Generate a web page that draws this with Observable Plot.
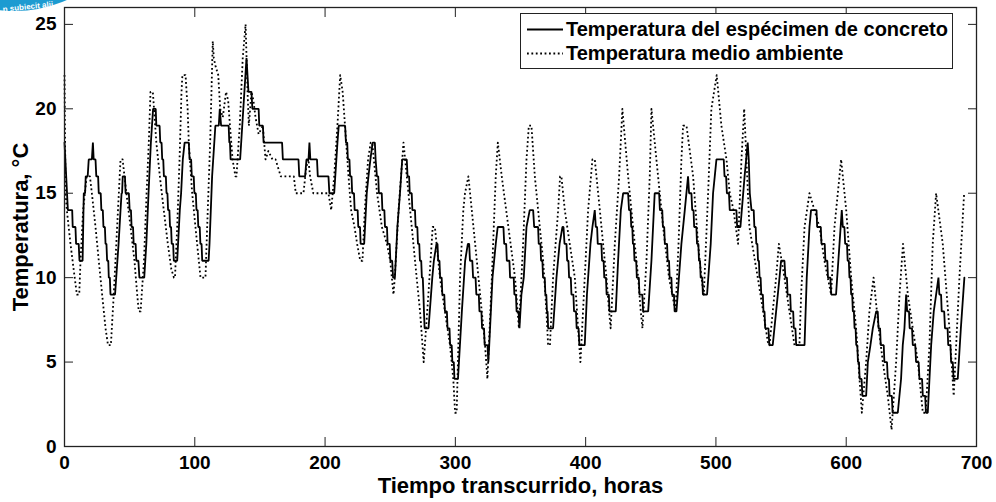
<!DOCTYPE html>
<html>
<head>
<meta charset="utf-8">
<script src="https://cdn.jsdelivr.net/npm/d3@7"></script>
<script src="https://cdn.jsdelivr.net/npm/@observablehq/plot@0.6"></script>
<style>
  html, body { margin: 0; padding: 0; background: #fff; }
  #wrap { position: relative; width: 996px; height: 502px; overflow: hidden; font-family: 'Liberation Sans', Arial, sans-serif; font-weight: bold; }
  #legend { position: absolute; left: 520px; top: 13px; width: 431px; height: 54px; border: 1px solid #222; background: #fff; box-sizing: content-box; }
  .row { position: absolute; left: 0; height: 24px; width: 100%; }
  .row svg { position: absolute; left: 6px; top: 0; }
  .row span { position: absolute; left: 45px; top: 0; line-height: 24px; font-size: 20px; color: #000; white-space: nowrap; }
  #logo { position: absolute; left: 0; top: 0; }
</style>
</head>
<body>
<div id="wrap"></div>
<script>
// ---- data (hours, °C) ----
const xTicks = [0, 100, 200, 300, 400, 500, 600, 700];
const yTicks = [0, 5, 10, 15, 20, 25];
const xTitle = "Tiempo transcurrido, horas";
const yTitle = "Temperatura, °C";
const seriesNames = ["Temperatura del espécimen de concreto", "Temperatura medio ambiente"];
const badgeText = "n subiecit alii";

const concreto = [
[0,18],[2.6,14],[5.9,14],[6.3,13],[8.4,13],[8.9,12],[10.9,12],[11.5,11],[13.9,11],[14.8,15],[15.8,15],[16.3,16],[17.8,16],[18.6,17],[21,17],[21.8,18],[22.4,17],[23.8,17],[24.4,16],[25.8,16],[26.3,15],[27.8,15],[28.3,14],[29.4,14],[29.9,13],[31,13],[31.5,12],[32.2,12],[32.7,11],[33.6,11],[34,10],[34.8,10],[35.3,9],[38.8,9],[39.7,10],[41.5,12],[43,14],[43.8,15],[44.2,15],[44.7,16],[46.4,16],[46.9,15],[49.4,15],[50,14],[51,14],[51.5,13],[52.6,13],[53.1,12],[54.6,12],[55.1,11],[56.7,11],[57.5,10],[61.2,10],[62.8,12],[64.5,15],[66.3,18],[68,20],[70,20],[70.5,19],[73,19],[73.5,18],[74.5,18],[75,17],[75.8,17],[76.3,16],[77.8,16],[78.3,15],[79,15],[79.5,14],[80.5,14],[81,13],[81.8,13],[82.3,12],[83.4,12],[83.9,11],[86.5,11],[88.5,14],[89.5,15],[90.8,17],[92.2,18],[95.4,18],[96,17],[97.2,17],[97.7,16],[99.2,16],[99.7,15],[100.8,15],[101.3,14],[102.2,14],[102.7,13],[103.8,13],[104.3,12],[105.2,12],[105.7,11],[110.6,11],[111.3,12],[113.3,16],[115.8,19],[118.4,19],[119.2,20],[120.2,19],[126,19],[126.5,18],[127,18],[127.5,17],[134.8,17],[139.7,23],[141.2,21],[143.5,21],[144.2,20],[149,20],[149.5,19],[152.3,19],[152.8,18],[167,18],[167.6,17],[179.6,17],
[180.2,16],[184.7,16],[185.7,17],[187.3,17],[188,18],[188.7,17],[193.8,17],[194.4,16],[202.6,16],[203.3,15],[207,15],[209.5,18],[210.5,19],[215.4,19],[216,18],[217,18],[217.5,17],[218.7,17],[219.2,16],[220.3,16],[220.8,15],[222.2,15],[222.7,14],[225,14],[225.5,13],[226.8,13],[227.3,12],[230,12],[232,15],[233.3,16],[234.8,17],[236.5,18],[238.2,18],[238.8,17],[239.8,16],[240.8,16],[241.3,15],[243.5,15],[244,14],[245.5,14],[246,13],[247.5,13],[248,12],[249.6,12],[250.1,11],[251.5,11],[252.2,10],[253.6,10],[255.5,13],[257.5,15],[259.2,17],[262.7,17],[263.3,16],[264.5,16],[265,15],[266.5,15],[267,14],[269,14],[269.5,13],[270.8,13],[271.3,12],[272.3,12],[272.8,11],[273.8,11],[274.3,10],[275,10],[275.5,9],[275.9,8],[276.4,7],[279.4,7],[282.3,10],[283.5,11],[285.5,12],[286.3,12],[286.8,11],[287.8,11],[288.3,10],[289.5,10],[290,9],[291.5,9],[292,8],[293.5,8],[294,7],[295.5,7],[296,6],[297.2,6],[297.7,5],[298.8,5],[299.3,4],[302,4],[305,8],[307.5,11],[309.6,12],[310.6,12],[311.2,11],[313,11],[313.6,10],[315.5,10],[316.1,9],[318,9],[318.5,8],[320,8],[320.5,7],[322,7],[322.5,6],[324.7,6],[325.3,5],[326,6],[328.5,10],[331,12],[332.5,13],[336.9,13],[337.5,12],[339,12],[339.5,11],[341.5,11],[342,10],[344.8,10],[345.3,9],[346.5,9],[347,8],[348.5,8],[349.2,7],
[350.7,9],[352.5,10],[354.6,13],[357.1,14],[359.7,14],[360.5,13],[363.5,13],[364,12],[365.3,12],[365.8,11],[366.8,11],[367.3,10],[368.6,10],[369.1,9],[369.8,9],[370.3,8],[370.8,8],[371.2,7],[375,7],[377.6,10],[380,12],[382.2,13],[383,13],[383.8,12],[385.3,12],[385.8,11],[386.8,11],[387.3,10],[388.6,10],[389.1,9],[390.6,9],[391.1,8],[392.6,8],[393.1,7],[394.6,7],[395.2,6],[399.3,6],[401,9],[403.7,12],[405.2,13],[407,14],[407.8,13],[408.8,13],[409.3,12],[412.1,12],[412.6,11],[413.8,11],[414.3,10],[415.6,10],[416.1,9],[417.8,9],[418.3,8],[423.1,8],[424.9,11],[427,14],[428.8,15],[432.6,15],[433.3,14],[434.5,14],[435,13],[435.8,13],[436.3,12],[437,12],[437.5,11],[438.8,11],[439.3,10],[440.8,10],[441.3,9],[443.5,9],[444.1,8],[448,8],[450.5,11],[453,15],[456.4,15],[457,14],[458.8,14],[459.3,13],[460.3,13],[460.8,12],[462.5,12],[463,11],[464,11],[464.5,10],[465.8,10],[466.3,9],[467.8,9],[468.3,8],[469.7,8],[473.5,12],[476.1,14],[478.6,16],[479.4,15],[481.2,15],[481.8,14],[482.8,14],[483.3,13],[485,13],[485.5,12],[486.5,12],[487,11],[487.8,11],[488.3,10],[489.5,10],[490,9],[493.2,9],[496,12],[497.8,15],[499.1,16],[500.4,17],[506,17],[506.6,16],[507.8,16],[508.4,15],[510,15],[510.6,14],[515.7,14],[516.3,13],[518.8,13],[522,16],[524.4,18],
[525.2,17],[526,15],[527.3,14],[529,14],[529.5,13],[530.5,13],[531,12],[531.8,12],[532.3,11],[533,11],[533.5,10],[534.3,10],[534.8,9],[536,9],[536.5,8],[537.3,8],[537.8,7],[540.3,7],[541,6],[543.6,6],[544.9,7],[546.2,8],[547.5,9],[548.8,10],[550,11],[552.6,11],[553.3,10],[554.5,10],[555,9],[557,9],[557.5,8],[559.3,8],[559.8,7],[561,7],[561.6,6],[568,6],[569.7,10],[571.8,13],[573,14],[577.2,14],[577.7,13],[580.5,13],[581,12],[583.5,12],[584,11],[585.5,11],[586,10],[587.8,10],[588.5,9],[592.2,9],[596.6,14],[597.4,13],[598.6,13],[599.2,12],[600.6,12],[601.1,11],[602,11],[602.5,10],[603.3,10],[603.8,9],[604.6,9],[605.1,8],[605.9,8],[606.4,7],[607.2,7],[607.7,6],[608.5,6],[609,5],[609.8,5],[610.3,4],[611.8,4],[612.4,3],[615.3,3],[616.6,5],[618.6,6],[620.4,7],[623,8],[624.2,8],[624.8,7],[626,7],[626.5,6],[628.8,6],[629.3,5],[631.3,5],[631.9,4],[632.8,4],[633.3,3],[635,3],[635.6,2],[639.6,2],[642.1,4],[643.4,6],[644.7,7],[646,9],[646.8,8],[648.2,8],[648.7,7],[650.5,7],[651.1,6],[653,6],[653.6,5],[655.6,5],[656.2,4],[658.2,4],[658.8,3],[660.6,3],[661.2,2],[662.6,2],[665.2,6],[667.2,8],[669,9],[670.8,10],[671.5,9],[672.8,9],[673.3,8],[675.2,8],[675.8,7],[677.8,7],[678.3,6],[680,6],[680.5,5],[681.8,5],[682.4,4],[685.6,4],[688,7],[690.7,10]
];

const ambiente = [
[0,22],[0.8,15],[1.8,14],[4.6,12],[7,10.5],[9.5,9],[11.3,9],[12.3,11],[14.3,14],[17,16],[19.5,16],[21,15],[23.8,13],[26.3,11],[28.9,9],[31.5,7],[33.4,6],[35.6,6],[37.8,9],[40.4,13],[43,17],[44.6,17],[47.5,15],[50.7,13],[53.7,11],[55.8,9],[57,8],[58.4,8],[61,11],[63,15],[64.7,18],[66,21],[67.8,21],[70.5,18],[73.2,16],[76.2,14],[79.3,12],[82,10.5],[84,10],[84.8,10],[86.5,13],[88.3,17],[89.8,21],[90.5,22],[92.9,22],[94.5,20],[95.4,18],[98,15],[101.8,12],[104.4,10],[108.2,10],[109.5,13],[111.8,18],[113.8,24],[114.6,23],[116,22.5],[118,22],[119.5,20],[121.5,19.5],[124,21],[125.6,20.5],[127,19],[129,17],[131.2,16],[132,16],[134.5,19],[136.8,23],[139,25],[140.5,21],[141.5,19],[143.5,21],[145,20.5],[146.6,19.5],[149,18.5],[152.2,19],[154.3,17],[156.5,17.5],[159.6,17],[162,17],[164,16.5],[166,16],[176,16],[177.5,15],[183.4,15],[185.5,16.5],[187.2,17],[188.5,16],[191,15],[202.6,15],[204.7,14],[207,16],[209.5,19],[211.6,22],[213.5,21],[216.2,18],[218,16],[220,14],[222.6,13],[224.6,12],[227,11],[228.7,11],[230.5,14],[233,17],[235,18],[236.2,18],[239.9,15],[243.6,13],[247.5,12],[250,11],[252.5,9],[253.5,10],[256.4,14],[260.2,18],[264,15],[267.8,12],[270.3,10],[272.9,8],[275.7,5],[279.3,9],[282.6,13],[284.3,13],[288.2,10],[292,8],[295.9,6],[298.4,4],[299.8,2],[301,2],[303.6,10],[306.1,14],[307.4,15],[310,16],[312.6,14],[315.2,12],[319,9],[322.8,6],[324.6,4],[328,10],[331,16],[332.6,18],[335.6,16],[340.7,13],[345.8,10],[348.8,7],[352,12],[354.6,17],[356.4,19],[358.4,19],[361,16],[364.8,13],[367.4,11],[369.9,8],[371.2,6],[372.6,6],[375,10],[378.9,14],[380.4,16],[381.4,16],[384,14],[387.8,12],[391.7,10],[394.2,7],[396,5],[399.3,10],[401.9,14],[405.2,17],[407,17],[410.9,14],[413.4,12],[416,10],[418,8],[419.2,7],[422.4,12],[425.7,16],[428.2,20],[432.6,16],[436.4,13],[440.3,10],[442.3,8],[443.6,7],[446.7,11],[449.2,16],[450.5,20],[455.6,16],[459.5,13],[464,10],[466.5,9],[469,8],[471.3,12],[473.5,17],[474.8,19],[477.4,19],[482.5,16],[486.3,12],[488.9,10],[490.7,9],[494,15],[496.5,20],[500.6,22],[504.2,19],[508.1,17],[510.6,15],[513.5,14],[517,12],[519.6,17],[521.7,20],[525.7,13],[532.1,10],[537.3,7.5],[539.8,6.2],[541.1,6],[543.6,8],[546.2,10],[548.3,12],[552.6,10],[556.4,8],[560.3,6],[564.1,6],[565.4,9],[568,13],[571.8,15],[575.6,14],[579.5,13],[583.3,11],[588.4,9],[591,13],[596.1,17],[600,14],[603.8,10],[607.6,7],[610.2,4],[612,2],[615.3,5],[617.8,8],[621,10],[624.2,7.5],[628.1,5],[631.9,3],[634.8,1],[638.3,5],[640.9,9],[643.6,12],[647.3,9],[651.1,7],[655,5],[658.8,2],[661,2],[663.9,6],[666.4,12],[669,15],[674.1,12],[679.2,7],[682.5,3],[686.9,10],[690.5,15]
];

// ---- chart ----
const font = "'Liberation Sans', Arial, Helvetica, sans-serif";
const dots = "1.8,2.6";
const chart = Plot.plot({
  width: 996,
  height: 502,
  marginLeft: 64,
  marginRight: 20,
  marginTop: 7,
  marginBottom: 56,
  x: {domain: [0, 700]},
  y: {domain: [0, 26]},
  style: {fontFamily: font, fontWeight: "bold", fontSize: "19px", color: "#000", background: "#fff", overflow: "visible"},
  marks: [
    Plot.line(ambiente, {x: d => d[0], y: d => d[1], stroke: "#000", strokeWidth: 1.8, strokeDasharray: dots, strokeLinecap: "butt"}),
    Plot.line(concreto, {x: d => d[0], y: d => d[1], stroke: "#000", strokeWidth: 1.8, strokeLinejoin: "miter"}),
    Plot.frame({stroke: "#222", strokeWidth: 1.3}),
    Plot.axisX(xTicks, {anchor: "bottom", tickSize: -9, tickPadding: 18, label: null, fontSize: 19, stroke: "#222"}),
    Plot.axisX(xTicks, {anchor: "top", tickSize: -9, tickFormat: () => "", label: null, stroke: "#222"}),
    Plot.axisY(yTicks, {anchor: "left", tickSize: -9, tickPadding: 17, label: null, fontSize: 19, stroke: "#222"}),
    Plot.axisY(yTicks, {anchor: "right", tickSize: -9, tickFormat: () => "", label: null, stroke: "#222"}),
    Plot.text([xTitle], {text: d => d, frameAnchor: "bottom", dy: 39, lineAnchor: "middle", textAnchor: "middle", fontSize: 22, fontWeight: "bold", fill: "#000"}),
    Plot.text([yTitle], {text: d => d, frameAnchor: "left", dx: -44, rotate: -90, lineAnchor: "middle", textAnchor: "middle", fontSize: 22, fontWeight: "bold", fill: "#000"})
  ]
});

const wrap = document.getElementById("wrap");
wrap.appendChild(chart);

// ---- legend (inside plot, top right) ----
const legend = document.createElement("div");
legend.id = "legend";
seriesNames.forEach((name, i) => {
  const row = document.createElement("div");
  row.className = "row";
  row.style.top = (i === 0 ? 3 : 27) + "px";
  const dash = i === 1 ? `stroke-dasharray="${dots}"` : "";
  row.innerHTML = `<svg width="36" height="24"><line x1="0" x2="36" y1="12.5" y2="12.5" stroke="#000" stroke-width="1.8" ${dash}/></svg><span>${name}</span>`;
  legend.appendChild(row);
});
wrap.appendChild(legend);

// ---- corner badge (partial logo visible in the source image) ----
const logo = document.createElementNS("http://www.w3.org/2000/svg", "svg");
logo.setAttribute("id", "logo");
logo.setAttribute("width", "76");
logo.setAttribute("height", "16");
logo.innerHTML = `
  <circle cx="15" cy="-117" r="122" fill="none" stroke="#1d9bd1" stroke-width="12"/>
  <text x="3" y="12" transform="rotate(-6 3 12)" font-family="${font}" font-weight="bold" font-size="8" fill="#fff">${badgeText}</text>`;
wrap.appendChild(logo);
</script>
</body>
</html>
